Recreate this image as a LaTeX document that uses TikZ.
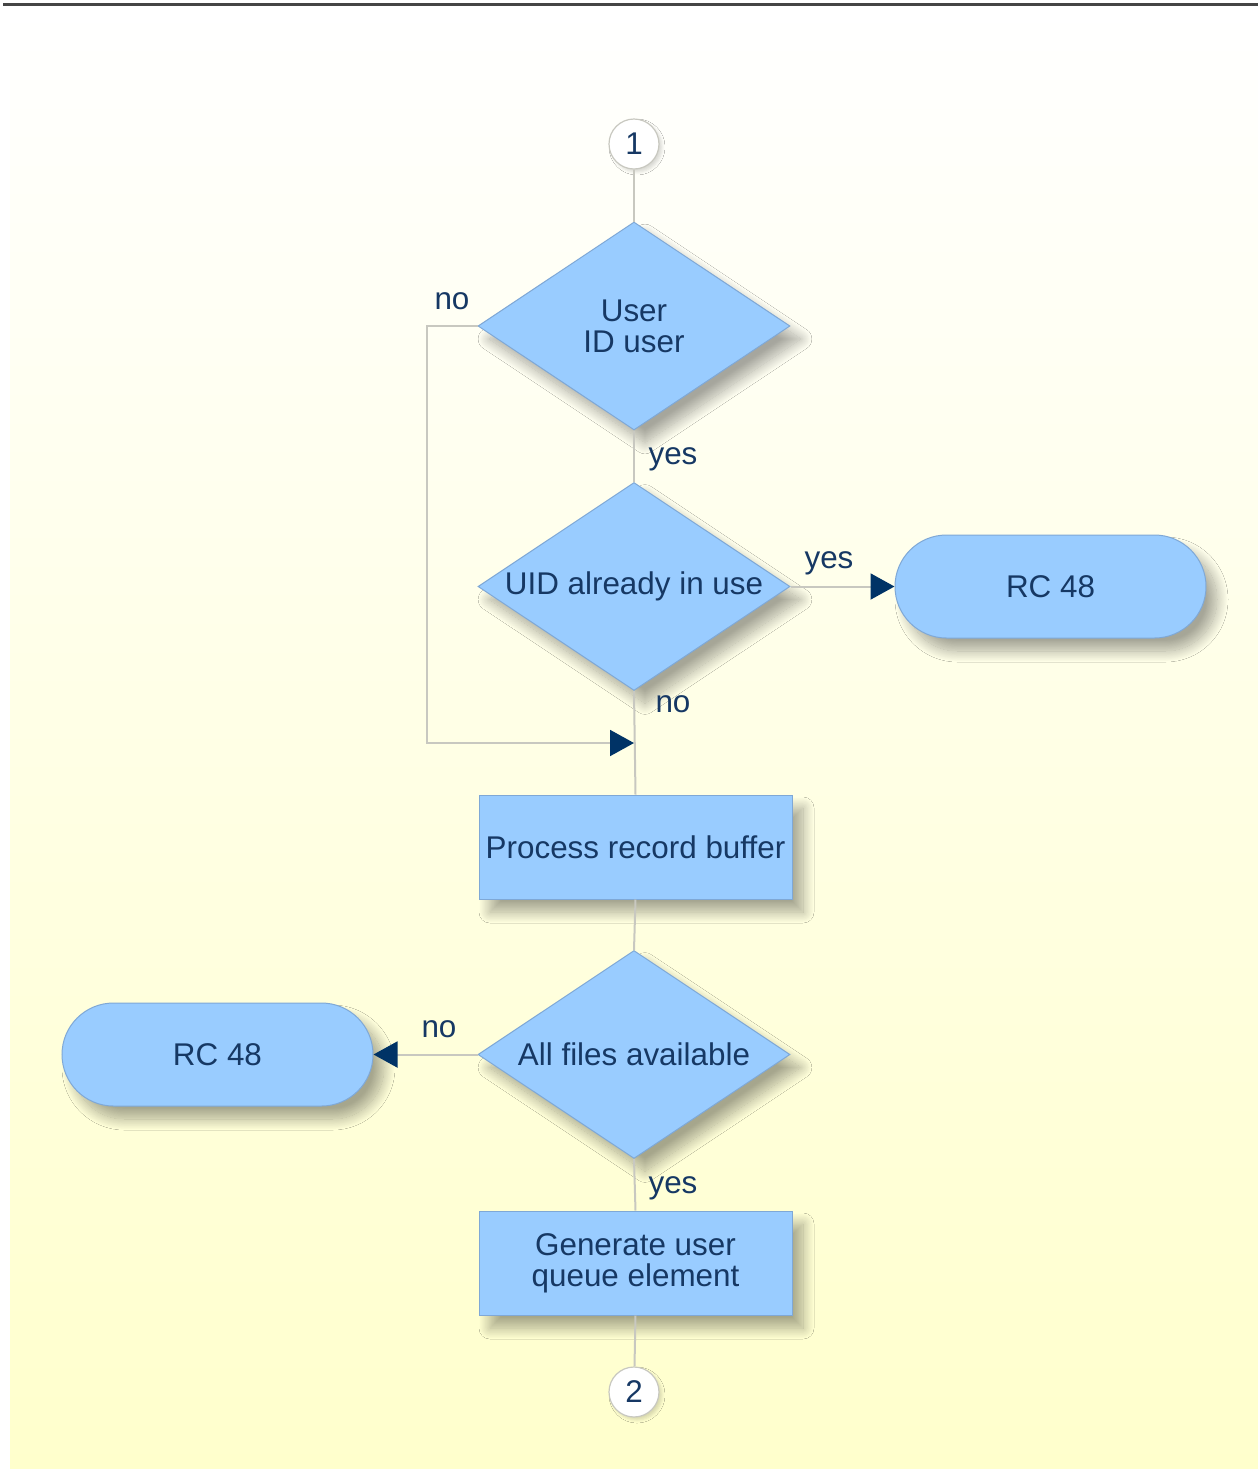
\documentclass[tikz,border=0pt]{standalone}
\usepackage{fontspec}
\setmainfont{Liberation Sans}
\usetikzlibrary{shapes.geometric,arrows.meta,shadows.blur}
\definecolor{fillblue}{HTML}{99CCFF}
\definecolor{edgeblue}{HTML}{7FA8D6}
\definecolor{textnavy}{HTML}{163864}
\definecolor{arrownavy}{HTML}{003366}
\definecolor{linegray}{HTML}{C8C8C0}
\definecolor{paleyellow}{HTML}{FFFFCC}
\definecolor{topline}{HTML}{454545}
\begin{document}
\begin{tikzpicture}[x=0.5pt,y=-0.5pt,
  font=\fontsize{15.7}{15.5}\selectfont,
  shad/.style={blur shadow={shadow xshift=5.5pt,shadow yshift=-6.5pt,shadow blur radius=5.5pt,shadow blur steps=20,shadow opacity=35}},
  dia/.style={diamond,draw=edgeblue,fill=fillblue,line width=0.5pt,minimum width=156pt,minimum height=104pt,inner sep=0pt,shad},
  procbox/.style={rectangle,draw=edgeblue,fill=fillblue,line width=0.5pt,minimum width=156.5pt,minimum height=52pt,inner sep=0pt,shad},
  term/.style={rectangle,rounded corners=25.75pt,draw=edgeblue,fill=fillblue,line width=0.5pt,minimum width=155.5pt,minimum height=51.5pt,inner sep=0pt,shad},
  conn/.style={circle,draw=linegray,fill=white,line width=0.6pt,minimum size=25pt,inner sep=0pt,text=textnavy,blur shadow={shadow xshift=1.5pt,shadow yshift=-1.5pt,shadow blur radius=1.5pt,shadow opacity=15}},
  txt/.style={text=textnavy,align=center,inner sep=0pt},
  lbl/.style={text=textnavy,inner sep=0pt},
  line/.style={draw=linegray,line width=1pt},
  arr/.style={line,-{Triangle[length=12pt,width=13pt,color=arrownavy]}}
]
\useasboundingbox (0,0) rectangle (1258,1469);
\shade[top color=white,bottom color=paleyellow] (10,8) rectangle (1258,1468);
\draw[topline,line width=1.5pt] (3,4) -- (1258,4);

% nodes
\node[conn] (c1) at (634,144) {1};
\node[dia] (d1) at (634,326) {};
\node[txt] (t1) at (d1.center) {User\\ID user};
\node[dia] (d2) at (634,586.5) {};
\node[txt] (t2) at (d2.center) {UID already in use};
\node[term] (r1) at (1050.5,586.5) {};
\node[txt] (tr1) at (r1.center) {RC 48};
\node[procbox] (b1) at (635.5,847) {};
\node[txt] (tb1) at (b1.center) {Process record buffer};
\node[dia] (d3) at (634,1054.5) {};
\node[txt] (t3) at (d3.center) {All files available};
\node[term] (r2) at (217.5,1054.5) {};
\node[txt] (tr2) at (r2.center) {RC 48};
\node[procbox] (b2) at (635.5,1263) {};
\node[txt] (tb2) at (b2.center) {Generate user\\queue element};
\node[conn] (c2) at (634,1392) {2};

% labels
\node[lbl] (l1) at (452,301) {no};
\node[lbl] (l2) at (673,459) {yes};
\node[lbl] (l3) at (829,563) {yes};
\node[lbl] (l4) at (673,704) {no};
\node[lbl] (l5) at (439,1029) {no};
\node[lbl] (l6) at (673,1188) {yes};

% connectors
\coordinate (lp) at (427,743);
\coordinate (jn) at (634,743);
\draw[line] (c1) -- (d1.north);
\draw[line] (d1.south) -- (d2.north);
\draw[line] (d2.south) -- (b1.north);
\draw[arr] (d1.west) -| (lp) -- (jn);
\draw[arr] (d2.east) -- (r1.west);
\draw[line] (b1.south) -- (d3.north);
\draw[arr] (d3.west) -- (r2.east);
\draw[line] (d3.south) -- (b2.north);
\draw[line] (b2.south) -- (c2);
\end{tikzpicture}
\end{document}
